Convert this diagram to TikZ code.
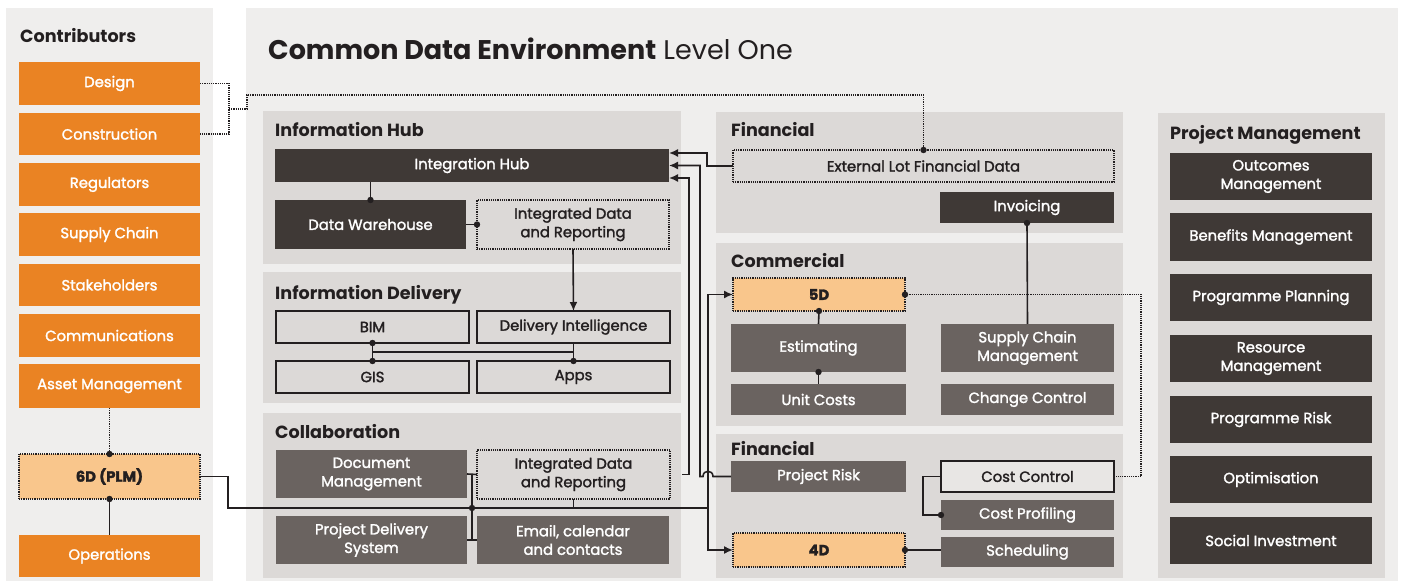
\documentclass[tikz,border=0pt]{standalone}
\usepackage{fontspec}
\setmainfont{Poppins}
\newfontfamily\boxff{Poppins}[FakeBold=1.8]
\usetikzlibrary{calc,arrows.meta}
\definecolor{orng}{HTML}{EA8323}
\definecolor{lorng}{HTML}{F9C68C}
\definecolor{dkbox}{HTML}{3F3936}
\definecolor{mdbox}{HTML}{6A6360}
\definecolor{outerbg}{HTML}{EFEEED}
\definecolor{innerbg}{HTML}{DCD9D7}
\definecolor{ink}{HTML}{231F20}
\definecolor{lightbox}{HTML}{E8E6E4}
\newcommand\boxfont{\boxff\fontsize{14.8}{18.5}\selectfont}
\newcommand\titlefont{\fontsize{17.6}{20}\selectfont\bfseries}
% box from corner (x1,y1) to (x2,y2)
\newcommand\bx[7]{\node[#1, minimum width={#5-#3}, minimum height={#6-#4}] (#2) at ({(#3+#5)/2},{(#4+#6)/2}) {#7};}
\tikzset{
  box/.style={inner sep=0pt, outer sep=0pt, align=center, font=\boxfont},
  obox/.style={box, fill=orng, text=white},
  dbox/.style={box, fill=dkbox, text=white},
  mbox/.style={box, fill=mdbox, text=white},
  frbox/.style={box, draw=ink, line width=1.5pt, text=ink},
  dotln/.style={draw=ink, line width=1.3pt, dash pattern=on 1.2pt off 1pt},
  dotbox/.style={box, dotln, text=ink},
  pbox/.style={box, fill=lorng, dotln, text=ink, font=\boxfont\bfseries},
  ptitle/.style={anchor=base west, font=\titlefont, text=ink, inner sep=0pt},
  ln/.style={draw=ink, line width=1.6pt},
  arr/.style={ln, -{Latex[length=9pt,width=8pt]}},
  dot/.style={fill=ink},
}
\newcommand\jdot[1]{\fill[dot] (#1) circle (3.2);}
\begin{document}
\begin{tikzpicture}[x=1pt,y=-1pt,line join=miter]
\useasboundingbox (0,0) rectangle (1401,585);
\fill[white] (0,0) rectangle (1401,585);

% outer panels
\fill[outerbg] (6,8) rectangle (213,581);
\fill[outerbg] (246,8) rectangle (1398,581);

% inner panels
\fill[innerbg] (263,111) rectangle (681,264);
\fill[innerbg] (263,272) rectangle (681,403);
\fill[innerbg] (263,413) rectangle (681,578);
\fill[innerbg] (716,112) rectangle (1123,233);
\fill[innerbg] (716,243) rectangle (1123,426);
\fill[innerbg] (716,434) rectangle (1123,578);
\fill[innerbg] (1158,113) rectangle (1385,578);

% titles
\node[ptitle] (tcon) at (20,43) {Contributors};
\node[anchor=base west, inner sep=0pt, text=ink, font=\fontsize{27}{30}\selectfont] (tmain) at (268,60) {\textbf{Common Data Environment} Level One};
\node[ptitle] (tih) at (275,137) {Information Hub};
\node[ptitle] (tid) at (275,300) {Information Delivery};
\node[ptitle] (tcol) at (275,438) {Collaboration};
\node[ptitle] (tfin) at (731,137) {Financial};
\node[ptitle] (tcom) at (731,268) {Commercial};
\node[ptitle] (tfin2) at (731,455) {Financial};
\node[ptitle] (tpm) at (1170,140) {Project Management};

% contributors
\bx{obox}{design}{19}{62}{200}{105}{Design}
\bx{obox}{constr}{19}{113}{200}{155}{Construction}
\bx{obox}{regul}{19}{163}{200}{206}{Regulators}
\bx{obox}{supply}{19}{213}{200}{256}{Supply Chain}
\bx{obox}{stake}{19}{264}{200}{306}{Stakeholders}
\bx{obox}{comms}{19}{314}{200}{357}{Communications}
\bx{obox}{asset}{19}{364}{200}{408}{Asset Management}
\bx{pbox}{plm}{19}{454}{200}{499}{6D (PLM)}
\bx{obox}{ops}{19}{535}{200}{577}{Operations}

% information hub
\bx{dbox}{ihub}{275}{149}{669}{182}{Integration Hub}
\bx{dbox}{dw}{275}{200}{466}{249}{Data Warehouse}
\bx{dotbox}{idra}{477}{200}{669}{249}{Integrated Data\\and Reporting}

% information delivery
\bx{frbox}{bim}{276}{311}{469}{343}{BIM}
\bx{frbox}{di}{477}{311}{670}{343}{Delivery Intelligence}
\bx{frbox}{gis}{276}{361}{469}{393}{GIS}
\bx{frbox}{apps}{477}{361}{670}{393}{Apps}

% collaboration
\bx{mbox}{docm}{276}{450}{467}{498}{Document\\Management}
\bx{dotbox}{idrb}{477}{450}{670}{499}{Integrated Data\\and Reporting}
\bx{mbox}{pds}{276}{516}{467}{564}{Project Delivery\\System}
\bx{mbox}{email}{477}{516}{669}{564}{Email, calendar\\and contacts}

% financial (top)
\bx{dotbox}{extlot}{733}{150}{1114}{182}{External Lot Financial Data}
\bx{dbox}{invoic}{940}{192}{1114}{223}{Invoicing}

% commercial
\bx{pbox}{fiveD}{733}{278}{905}{311}{5D}
\bx{mbox}{estim}{731}{324}{906}{372}{Estimating}
\bx{mbox}{scm}{941}{324}{1114}{372}{Supply Chain\\Management}
\bx{mbox}{unitc}{731}{384}{906}{415}{Unit Costs}
\bx{mbox}{chgc}{941}{384}{1114}{415}{Change Control}

% financial (bottom)
\bx{mbox}{prisk}{731}{461}{906}{492}{Project Risk}
\bx{frbox,fill=lightbox}{costc}{941}{461}{1114}{492}{Cost Control}
\bx{mbox}{costp}{941}{500}{1114}{530}{Cost Profiling}
\bx{pbox}{fourD}{733}{533}{905}{567}{4D}
\bx{mbox}{sched}{941}{537}{1114}{567}{Scheduling}

% project management
\bx{dbox}{outc}{1170}{153}{1372}{200}{Outcomes\\Management}
\bx{dbox}{bene}{1170}{213}{1372}{261}{Benefits Management}
\bx{dbox}{prog}{1170}{274}{1372}{321}{Programme Planning}
\bx{dbox}{reso}{1170}{335}{1372}{382}{Resource\\Management}
\bx{dbox}{prgr}{1170}{396}{1372}{443}{Programme Risk}
\bx{dbox}{optim}{1170}{456}{1372}{503}{Optimisation}
\bx{dbox}{social}{1170}{517}{1372}{564}{Social Investment}

% ---- connectors ----
% design / construction feed to external lot data
\coordinate (cb) at (229,109);
\coordinate (elup) at (923.5,95);
\draw[dotln] (design.east) -| (cb) |- (constr.east);
\draw[dotln] (cb) -- (247,109) |- (elup) -- (extlot.north);
\jdot{extlot.north}

% 6D links
\draw[dotln] (asset.south) -- (plm.north);
\draw[ln] (plm.south) -- (ops.north);
\jdot{plm.north}
\jdot{plm.south}

% 6D trunk to 5D and 4D
\coordinate (trunk) at (708,508);
\draw[ln] (plm.east) -| (228,508) -- (trunk);
\draw[arr] (trunk) |- (fiveD.west);
\draw[arr] (trunk) |- (fourD.west);

% collaboration ties
\coordinate (ct) at ($(docm.east)!0.5!(idrb.west)$);
\coordinate (cbt) at ($(pds.east)!0.5!(email.west)$);
\draw[ln] (docm.east) -- (idrb.west);
\draw[ln] (pds.east) -- (email.west);
\draw[ln] (ct) -- (cbt);
\draw[ln] (idrb.south) -- (idrb.south |- trunk);
\jdot{ct |- trunk}

% feeds into the integration hub
\draw[arr] (extlot.west) -- ++(-26,0) |- ($(ihub.east)+(0,-12.5)$);
\draw[arr] (prisk.west) -- (713,476.5) .. controls (713,469.5) and (703,469.5) .. (703,476.5) -- (700,476.5) |- (ihub.east);
\draw[arr] ($(idrb.east)+(12,0)$) -- ++(7,0) |- ($(ihub.east)+(0,12.5)$);

% information hub internals
\draw[ln] (dw.north |- ihub.south) -- (dw.north);
\jdot{dw.north}
\draw[ln] (dw.east) -- (idra.west);
\jdot{idra.west}
\draw[arr] (idra.south) -- (di.north);

% information delivery ties
\coordinate (bm) at ($(bim.south)!0.5!(gis.north)$);
\coordinate (dm) at ($(di.south)!0.5!(apps.north)$);
\draw[ln] (bim.south) -- (gis.north);
\draw[ln] (di.south) -- (apps.north);
\draw[ln] (bm) -- (dm);
\jdot{bim.south}
\jdot{gis.north}
\jdot{apps.north}

% commercial / financial ties
\draw[ln] (invoic.south) -- (scm.north);
\jdot{invoic.south}
\draw[ln] (fiveD.south) -- (estim.north);
\jdot{fiveD.south}
\draw[ln] (estim.south) -- (unitc.north);
\jdot{estim.south}
\draw[dotln] (fiveD.east) -| (1141,476.5) -- (costc.east);
\jdot{fiveD.east}
\draw[ln] (costc.west) -- ++(-18,0) |- (costp.west);
\jdot{costp.west}
\draw[ln] (fourD.east) -- (sched.west |- fourD.east);
\jdot{fourD.east}
\end{tikzpicture}
\end{document}
